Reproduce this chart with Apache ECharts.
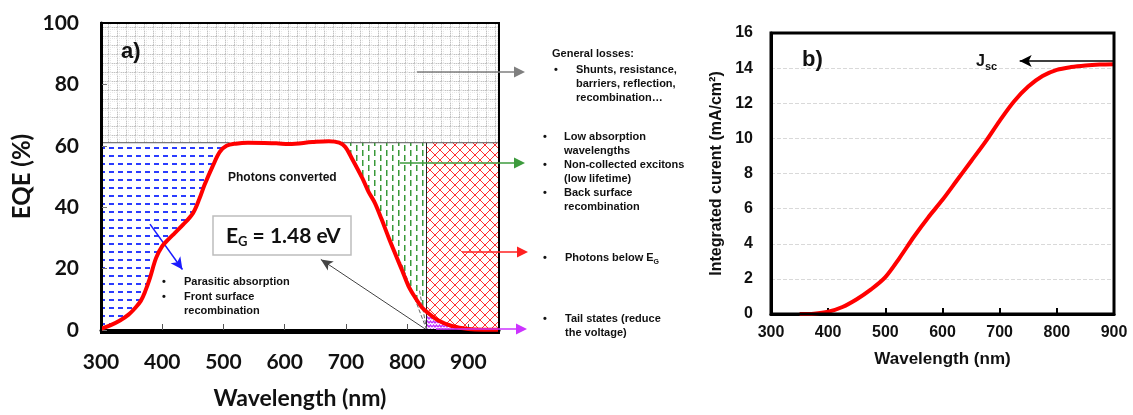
<!DOCTYPE html>
<html>
<head>
<meta charset="utf-8">
<script src="https://cdn.jsdelivr.net/npm/echarts@6/dist/echarts.min.js"></script>
<style>
  html, body { margin: 0; padding: 0; background: #fff; }
  #main { width: 1133px; height: 415px; }
</style>
</head>
<body>
<div id="main"></div>
<script>
// Panel a) external quantum efficiency spectrum
const eqeWavelength = [300, 315, 331, 345, 355, 365, 372, 380, 390, 400, 410, 420, 434, 450, 461, 469, 483, 494, 505, 520, 540, 586, 607, 645, 672, 689, 699, 710, 727, 737, 747, 758, 770, 781, 792, 802, 813, 824, 832, 851, 873, 900, 925, 950];
const eqeValues     = [0.4, 1.5, 3.1, 5.0, 7.0, 9.5, 12.5, 17.0, 23.5, 27.3, 29.5, 31.5, 34.3, 38.0, 42.9, 47.2, 53.6, 58.0, 60.0, 60.7, 61.0, 60.8, 60.6, 61.2, 61.5, 61.0, 59.6, 55.8, 49.4, 45.0, 41.5, 36.2, 30.0, 24.6, 19.3, 14.4, 10.6, 7.4, 5.9, 3.1, 1.3, 0.3, 0.1, 0.1];

// Loss regions of panel a) (wavelength bounds in nm, EQE level in %)
const lossLevel = 61;
const parasiticEnd = 510;
const lowAbsStart = 690;
const bandEdge = 832;
const axisStartNm = 300;
const axisEndNm = 950;

// Band-gap extrapolation lines, [wavelength, EQE] pairs
const tangentLines = [[[832, 0], [790, 22]], [[832, 0], [820, 13]]];
const egPointer = [[832, 0], [659, 23]];
const parasiticPointer = [[380, 34.5], [433, 19.7]];

// Panel b) integrated short-circuit current
const jscWavelength = [350, 375, 400, 425, 450, 475, 500, 525, 550, 575, 600, 625, 650, 675, 700, 725, 750, 775, 800, 825, 850, 875, 900];
const jscValues     = [0, 0.02, 0.13, 0.4, 0.84, 1.4, 2.1, 3.2, 4.4, 5.5, 6.5, 7.6, 8.7, 9.8, 11.0, 12.1, 12.95, 13.55, 13.9, 14.06, 14.15, 14.2, 14.22];
const jscLevel = 14.4;
const jscArrowTip = 735;

const pair = (xs, ys) => xs.map((x, i) => [x, ys[i]]);
const eqeData = pair(eqeWavelength, eqeValues);
const tailData = eqeData.filter(p => p[0] >= bandEdge);
const jscData = pair(jscWavelength, jscValues);

// Fill patterns
function tile(w, h, draw) {
  const c = document.createElement('canvas');
  c.width = w; c.height = h;
  const g = c.getContext('2d');
  g.fillStyle = '#fff'; g.fillRect(0, 0, w, h);
  draw(g);
  return { image: c, repeat: 'repeat' };
}
const gridFill = tile(9, 9, g => {
  for (let i = 0; i < 9; i++) {
    g.fillStyle = i % 2 ? '#e6e6e6' : '#c2c2c2';
    g.fillRect(i, 0, 1, 1); g.fillRect(0, i, 1, 1);
  }
  for (let i = 0; i < 9; i += 2) {
    g.fillStyle = '#e8e8e8';
    g.fillRect(i, 2, 1, 1); g.fillRect(2, i, 1, 1);
  }
});
const blueFill = tile(9, 8, g => { g.fillStyle = '#2b3cff'; g.fillRect(1, 3, 5, 2); });
const greenFill = tile(12, 10, g => {
  g.fillStyle = '#3a9a3a';
  g.fillRect(2, 0, 1.5, 6); g.fillRect(8, 5, 1.5, 5); g.fillRect(8, 0, 1.5, 1);
});
const redFill = tile(10, 10, g => {
  g.strokeStyle = '#ff3030'; g.lineWidth = 1;
  g.beginPath(); g.moveTo(0, 0); g.lineTo(10, 10); g.moveTo(10, 0); g.lineTo(0, 10); g.stroke();
});
const magentaFill = tile(6, 4, g => {
  g.strokeStyle = '#c22cff'; g.lineWidth = 1.3;
  g.beginPath(); g.moveTo(0, 3); g.lineTo(1.5, 1); g.lineTo(3, 3); g.lineTo(4.5, 1); g.lineTo(6, 3); g.stroke();
});

// Plot rectangles (pixels)
const gA = { left: 101, top: 23, width: 398, height: 310 };
const gB = { left: 771, top: 33, width: 343, height: 281 };

function arrow(x1, y1, x2, y2, color, w, head) {
  const a = Math.atan2(y2 - y1, x2 - x1);
  const hl = head || 10, hw = hl * 0.5;
  const bx = x2 - hl * Math.cos(a), by = y2 - hl * Math.sin(a);
  return [
    { type: 'line', z: 100, silent: true, shape: { x1, y1, x2: bx, y2: by }, style: { stroke: color, lineWidth: w } },
    { type: 'polygon', z: 100, silent: true, shape: { points: [[x2, y2], [bx + hw * Math.sin(a), by - hw * Math.cos(a)], [bx - hw * Math.sin(a), by + hw * Math.cos(a)]] }, style: { fill: color } }
  ];
}
const arial = '"Liberation Sans", Arial, sans-serif';
const lato = 'Lato, "Open Sans", sans-serif';
const noteFont = 'bold 11px ' + arial;
function note(x, y, text, font) {
  return { type: 'text', z: 100, silent: true, x, y, style: { text, font: font || noteFont, fill: '#111', verticalAlign: 'middle' } };
}
function richNote(x, y, text, size, subSize, family) {
  const fam = family || arial;
  return { type: 'text', z: 100, silent: true, x, y, style: {
    text, fill: '#111', verticalAlign: 'middle',
    rich: {
      n: { fontFamily: fam, fontWeight: 'bold', fontSize: size, lineHeight: size + 4, fill: '#111' },
      s: { fontFamily: fam, fontWeight: 'bold', fontSize: subSize, lineHeight: size + 4, verticalAlign: 'bottom', fill: '#111' }
    }
  } };
}

const graphics = [
  // plot frames
  { type: 'rect', z: 90, silent: true, shape: { x: gA.left, y: gA.top, width: gA.width, height: gA.height }, style: { fill: 'none', stroke: '#000', lineWidth: 2 } },
  { type: 'rect', z: 90, silent: true, shape: { x: gB.left, y: gB.top, width: gB.width, height: gB.height }, style: { fill: 'none', stroke: '#000', lineWidth: 3 } },
  // panel labels
  note(121, 52, 'a)', 'bold 22px ' + arial),
  note(802, 60, 'b)', 'bold 22px ' + arial),
  note(228, 178, 'Photons converted', 'bold 12px ' + arial),
  // band gap box
  { type: 'rect', z: 95, silent: true, shape: { x: 213, y: 216, width: 138, height: 39 }, style: { fill: '#fff', stroke: '#bdbdbd', lineWidth: 1.5 } },
  richNote(226, 236, '{n|E}{s|G}{n| = 1.48 eV}', 21, 13, lato),
  // parasitic absorption note
  note(162, 282, '•'), note(184, 282, 'Parasitic absorption'),
  note(162, 297, '•'), note(184, 297, 'Front surface'), note(184, 311, 'recombination'),
  // loss notes on the right of panel a)
  note(552, 54, 'General losses:'),
  note(554, 70, '•'), note(576, 70, 'Shunts, resistance,'), note(576, 84, 'barriers, reflection,'), note(576, 98, 'recombination…'),
  note(543, 137, '•'), note(564, 137, 'Low absorption'), note(564, 151, 'wavelengths'),
  note(543, 165, '•'), note(564, 165, 'Non-collected excitons'), note(564, 179, '(low lifetime)'),
  note(543, 193, '•'), note(564, 193, 'Back surface'), note(564, 207, 'recombination'),
  note(543, 258, '•'), richNote(565, 258, '{n|Photons below E}{s|G}', 11, 7),
  note(543, 319, '•'), note(565, 319, 'Tail states (reduce'), note(565, 333, 'the voltage)'),
  // J_sc label
  richNote(976, 62, '{n|J}{s|sc}', 16, 11)
].concat(
  arrow(417, 72, 525, 72, '#7f7f7f', 1.5, 11),
  arrow(400, 163, 525, 163, '#3d9b3d', 1.5, 11),
  arrow(462, 252, 528, 252, '#ff2020', 1.5, 11),
  arrow(436, 329, 527, 329, '#cc33ff', 1.5, 11)
);

// A flat area series from x0 to x1 at level y, filled down to the axis
function band(name, x0, x1, y, fill, z, edge) {
  return {
    name, type: 'line', xAxisIndex: 0, yAxisIndex: 0, z, silent: true,
    data: [[x0, y], [x1, y]], symbol: 'none',
    lineStyle: edge ? { color: edge, width: 1 } : { width: 0 },
    areaStyle: { color: fill, opacity: 1 }
  };
}

const chart = echarts.init(document.getElementById('main'), null, { renderer: 'canvas' });
chart.setOption({
  animation: false,
  backgroundColor: '#fff',
  grid: [
    Object.assign({ containLabel: false }, gA),
    Object.assign({ containLabel: false }, gB)
  ],
  xAxis: [
    {
      gridIndex: 0, type: 'value', min: axisStartNm, max: axisEndNm, interval: 100, z: 5,
      name: 'Wavelength (nm)', nameLocation: 'middle', nameGap: 57,
      nameTextStyle: { fontFamily: lato, fontWeight: 'bold', fontSize: 23, color: '#111' },
      axisLine: { lineStyle: { color: '#000', width: 3 } },
      axisTick: { inside: true, length: 6, lineStyle: { color: '#555', width: 1 } },
      axisLabel: { margin: 22, fontFamily: lato, fontWeight: 'bold', fontSize: 21, color: '#111',
        formatter: v => (v % 100 === 0 ? String(v) : '') },
      splitLine: { show: false }
    },
    {
      gridIndex: 1, type: 'value', min: 300, max: 900, interval: 100, z: 5,
      name: 'Wavelength (nm)', nameLocation: 'middle', nameGap: 37,
      nameTextStyle: { fontFamily: arial, fontWeight: 'bold', fontSize: 17, color: '#111' },
      axisLine: { lineStyle: { color: '#000', width: 3 } },
      axisTick: { inside: true, length: 6, lineStyle: { color: '#000', width: 2 } },
      axisLabel: { margin: 11, fontFamily: arial, fontWeight: 'bold', fontSize: 16, color: '#111' },
      splitLine: { show: false }
    }
  ],
  yAxis: [
    {
      gridIndex: 0, type: 'value', min: 0, max: 100, interval: 20, z: 5,
      name: 'EQE (%)', nameLocation: 'middle', nameGap: 67,
      nameTextStyle: { fontFamily: lato, fontWeight: 'bold', fontSize: 24, color: '#111' },
      axisLine: { show: true, lineStyle: { color: '#000', width: 3 } },
      axisTick: { show: true, inside: true, length: 6, lineStyle: { color: '#777', width: 1 } },
      axisLabel: { margin: 22, fontFamily: lato, fontWeight: 'bold', fontSize: 21, color: '#111' },
      splitLine: { show: false }
    },
    {
      gridIndex: 1, type: 'value', min: 0, max: 16, interval: 2, z: 5,
      name: 'Integrated curent (mA/cm²)', nameLocation: 'middle', nameGap: 46,
      nameTextStyle: { fontFamily: arial, fontWeight: 'bold', fontSize: 16, color: '#111' },
      axisLine: { show: true, lineStyle: { color: '#000', width: 3 } },
      axisTick: { show: false },
      axisLabel: { margin: 18, fontFamily: arial, fontWeight: 'bold', fontSize: 16, color: '#111' },
      splitLine: { show: true, lineStyle: { color: '#d9d9d9', type: 'dashed', width: 1 } }
    }
  ],
  series: [
    band('general losses', axisStartNm, axisEndNm, 100, gridFill, 0),
    band('parasitic absorption', axisStartNm, parasiticEnd, lossLevel, blueFill, 1, '#555'),
    band('low absorption', lowAbsStart, bandEdge, lossLevel, greenFill, 1, '#555'),
    Object.assign(band('below gap', bandEdge, axisEndNm, lossLevel, redFill, 1, '#555'), {
      markLine: {
        silent: true, symbol: ['none', 'none'], label: { show: false },
        lineStyle: { color: '#222', type: 'solid', width: 1 },
        data: [[{ coord: [bandEdge, 0] }, { coord: [bandEdge, lossLevel] }]]
      }
    }),
    {
      name: 'converted', type: 'line', xAxisIndex: 0, yAxisIndex: 0, z: 2, silent: true,
      data: eqeData, symbol: 'none', smooth: 0.35,
      lineStyle: { width: 0 }, areaStyle: { color: '#fff', opacity: 1 }
    },
    {
      name: 'tail states', type: 'line', xAxisIndex: 0, yAxisIndex: 0, z: 3, silent: true,
      data: tailData, symbol: 'none', smooth: 0.35,
      lineStyle: { width: 0 }, areaStyle: { color: magentaFill, opacity: 1 }
    },
    {
      name: 'EQE', type: 'line', xAxisIndex: 0, yAxisIndex: 0, z: 10, silent: true,
      data: eqeData, symbol: 'none', smooth: 0.35,
      lineStyle: { color: '#ff0000', width: 4 },
      markLine: {
        silent: true, symbol: ['none', 'none'], label: { show: false },
        data: [
          [{ coord: tangentLines[0][0], lineStyle: { color: '#666', type: 'dashed', width: 1 } }, { coord: tangentLines[0][1] }],
          [{ coord: tangentLines[1][0], lineStyle: { color: '#666', type: 'dashed', width: 1 } }, { coord: tangentLines[1][1] }],
          [{ coord: egPointer[0], symbol: 'none', lineStyle: { color: '#444', type: 'solid', width: 1 } }, { coord: egPointer[1], symbol: 'arrow', symbolSize: [8, 12] }],
          [{ coord: parasiticPointer[0], symbol: 'none', lineStyle: { color: '#1a1aff', type: 'solid', width: 1.5 } }, { coord: parasiticPointer[1], symbol: 'arrow', symbolSize: [9, 12] }]
        ]
      }
    },
    {
      name: 'Jsc', type: 'line', xAxisIndex: 1, yAxisIndex: 1, z: 10, silent: true,
      data: jscData, symbol: 'none', smooth: 0.3,
      lineStyle: { color: '#ff0000', width: 4 },
      markLine: {
        silent: true, label: { show: false },
        data: [
          [{ coord: [900, jscLevel], symbol: 'none', lineStyle: { color: '#000', type: 'solid', width: 1.5 } }, { coord: [jscArrowTip, jscLevel], symbol: 'arrow', symbolSize: [9, 12] }]
        ]
      }
    }
  ],
  graphic: graphics
});
</script>
</body>
</html>
